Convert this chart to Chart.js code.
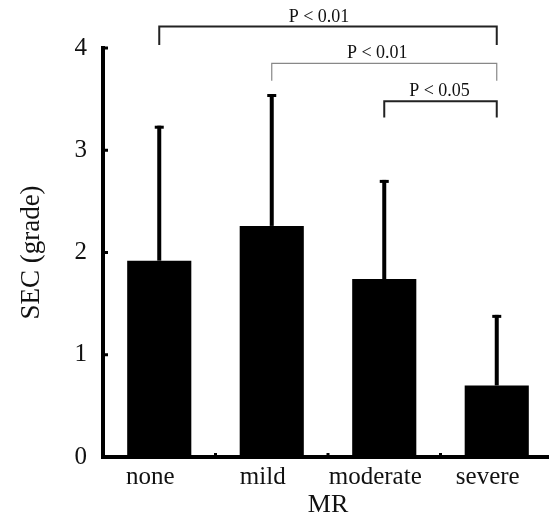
<!DOCTYPE html>
<html>
<head>
<meta charset="utf-8">
<script src="https://cdn.jsdelivr.net/npm/chart.js@4/dist/chart.umd.min.js"></script>
<style>
    html, body { margin: 0; padding: 0; background: #fff; overflow: hidden; }
    #wrap { width: 549px; height: 519px; overflow: hidden; }
    canvas { display: block; }
</style>
</head>
<body>
<div id="wrap"><canvas id="secChart" width="560" height="519"></canvas></div>
<script>
// SEC grade by MR severity (mean + upper SD)
const categories = ['none', 'mild', 'moderate', 'severe'];
const meanValues = [1.92, 2.26, 1.74, 0.70];
const errorTops = [3.24, 3.55, 2.71, 1.39];
const yTicks = [0, 1, 2, 3, 4];

// significance brackets
const compFrom = [0, 1, 2];
const compTo = [3, 3, 3];
const compLevel = [4.21, 3.85, 3.48];
const compEnd = [4.03, 3.68, 3.32];
const compLabels = ['P < 0.01', 'P < 0.01', 'P < 0.05'];

const serif = "'Liberation Serif', 'Times New Roman', serif";
const bracketColors = ['#222', '#888', '#222'];
const bracketWidths = [2, 1.2, 2];
const labelShift = [-9, -7, -1];

const extrasPlugin = {
    id: 'extras',
    afterDatasetsDraw(chart) {
        const ctx = chart.ctx;
        const x = chart.scales.x;
        const y = chart.scales.y;
        const meta = chart.getDatasetMeta(0);

        // error bars (upper only)
        ctx.save();
        ctx.fillStyle = '#000';
        meta.data.forEach((bar, i) => {
            const top = y.getPixelForValue(errorTops[i]);
            const base = y.getPixelForValue(meanValues[i]);
            ctx.fillRect(bar.x - 2, top, 4, base - top);
            ctx.fillRect(bar.x - 4.5, top, 9, 3);
        });

        // tick marks, pointing inward
        yTicks.forEach(v => {
            const py = y.getPixelForValue(v);
            ctx.fillRect(x.left, py - 1.5, 5, 3);
        });
        for (let i = 0; i < categories.length - 1; i++) {
            const px = x.getPixelForValue(i + 0.5);
            ctx.fillRect(px - 1.5, y.bottom - 4, 3, 4);
        }

        // brackets
        ctx.font = '18px ' + serif;
        ctx.textAlign = 'center';
        ctx.textBaseline = 'alphabetic';
        compLabels.forEach((label, i) => {
            const x1 = x.getPixelForValue(compFrom[i]);
            const x2 = x.getPixelForValue(compTo[i]);
            const yl = y.getPixelForValue(compLevel[i]);
            const ye = y.getPixelForValue(compEnd[i]);
            ctx.strokeStyle = bracketColors[i];
            ctx.lineWidth = bracketWidths[i];
            ctx.beginPath();
            ctx.moveTo(x1, ye);
            ctx.lineTo(x1, yl);
            ctx.lineTo(x2, yl);
            ctx.lineTo(x2, ye);
            ctx.stroke();
            ctx.fillStyle = '#111';
            ctx.fillText(label, (x1 + x2) / 2 + labelShift[i], yl - 5);
        });
        ctx.restore();
    }
};

new Chart(document.getElementById('secChart'), {
    type: 'bar',
    data: {
        labels: categories,
        datasets: [{
            data: meanValues,
            backgroundColor: '#000',
            borderWidth: 0,
            barPercentage: 0.57,
            categoryPercentage: 1
        }]
    },
    options: {
        responsive: false,
        animation: false,
        layout: { padding: { top: 48, right: 7, bottom: 0, left: 0 } },
        plugins: { legend: { display: false }, tooltip: { enabled: false } },
        scales: {
            x: {
                grid: { display: false, drawTicks: false },
                border: { display: true, color: '#000', width: 4 },
                ticks: { color: '#111', padding: 5, labelOffset: -9, font: { family: serif, size: 25 } },
                title: {
                    display: true, text: 'MR', color: '#111',
                    font: { family: serif, size: 26, lineHeight: 1 },
                    padding: { top: 0, bottom: 1 }
                },
                afterFit(scale) { scale.height = 62; }
            },
            y: {
                min: 0,
                max: 4,
                afterBuildTicks(scale) { scale.ticks = yTicks.map(v => ({ value: v })); },
                grid: { display: false, drawTicks: false },
                border: { display: true, color: '#000', width: 4 },
                ticks: { color: '#111', padding: 16, font: { family: serif, size: 25 } },
                title: {
                    display: true, text: 'SEC (grade)', color: '#111',
                    font: { family: serif, size: 27, lineHeight: 1.2 },
                    padding: { top: 16, bottom: 0 }
                },
                afterFit(scale) { scale.width = 103; }
            }
        }
    },
    plugins: [extrasPlugin]
});
</script>
</body>
</html>
